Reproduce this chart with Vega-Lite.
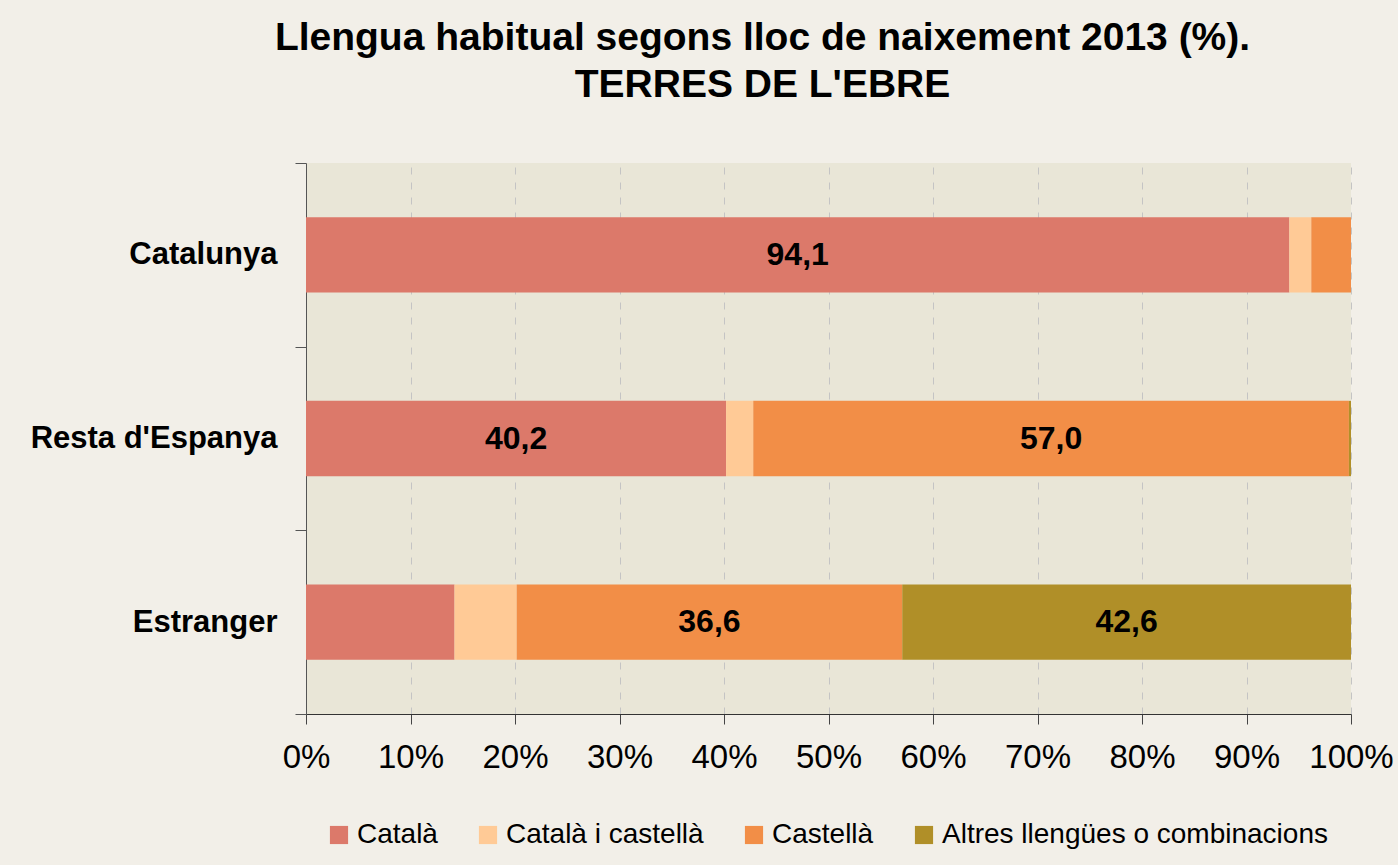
{
  "$schema": "https://vega.github.io/schema/vega-lite/v6.json",
  "width": 1045,
  "height": 551,
  "autosize": {"type": "none"},
  "padding": {"left": 306, "top": 163, "right": 47, "bottom": 151},
  "background": "#F2EFE8",
  "config": {
    "font": "Liberation Sans",
    "locale": {"number": {"decimal": ",", "thousands": ".", "grouping": [3], "currency": ["", " €"]}},
    "view": {"fill": "#E9E6D7", "stroke": null}
  },
  "title": {
    "text": ["Llengua habitual segons lloc de naixement 2013 (%).", "TERRES DE L'EBRE"],
    "fontSize": 39,
    "fontWeight": "bold",
    "color": "#000000",
    "anchor": "middle",
    "dx": -66,
    "offset": 42,
    "lineHeight": 47
  },
  "data": {
    "values": [
      {"origin": "Catalunya", "lang": "Català", "ord": 1, "value": 94.1},
      {"origin": "Catalunya", "lang": "Català i castellà", "ord": 2, "value": 2.1},
      {"origin": "Catalunya", "lang": "Castellà", "ord": 3, "value": 3.8},
      {"origin": "Catalunya", "lang": "Altres llengües o combinacions", "ord": 4, "value": 0.0},
      {"origin": "Resta d'Espanya", "lang": "Català", "ord": 1, "value": 40.2},
      {"origin": "Resta d'Espanya", "lang": "Català i castellà", "ord": 2, "value": 2.6},
      {"origin": "Resta d'Espanya", "lang": "Castellà", "ord": 3, "value": 57.0},
      {"origin": "Resta d'Espanya", "lang": "Altres llengües o combinacions", "ord": 4, "value": 0.2},
      {"origin": "Estranger", "lang": "Català", "ord": 1, "value": 14.1},
      {"origin": "Estranger", "lang": "Català i castellà", "ord": 2, "value": 5.9},
      {"origin": "Estranger", "lang": "Castellà", "ord": 3, "value": 36.6},
      {"origin": "Estranger", "lang": "Altres llengües o combinacions", "ord": 4, "value": 42.6}
    ]
  },
  "transform": [
    {"stack": "value", "groupby": ["origin"], "sort": [{"field": "ord", "order": "ascending"}], "offset": "normalize", "as": ["x0", "x1"]},
    {"calculate": "(datum.x0 + datum.x1) / 2", "as": "xmid"}
  ],
  "encoding": {
    "y": {
      "field": "origin",
      "type": "nominal",
      "sort": ["Catalunya", "Resta d'Espanya", "Estranger"],
      "scale": {"paddingInner": 0, "paddingOuter": 0},
      "axis": {
        "title": null,
        "labelFontSize": 31,
        "labelFontWeight": "bold",
        "labelColor": "#000000",
        "labelLimit": 0,
        "tickBand": "extent",
        "tickSize": 11,
        "labelPadding": 18,
        "domainColor": "#555555",
        "tickColor": "#555555",
        "grid": false
      }
    }
  },
  "layer": [
    {
      "mark": {"type": "bar", "height": {"band": 0.41}},
      "encoding": {
        "x": {
          "field": "x0",
          "type": "quantitative",
          "scale": {"domain": [0, 1], "nice": false},
          "axis": {
            "title": null,
            "format": ".0%",
            "values": [0, 0.1, 0.2, 0.3, 0.4, 0.5, 0.6, 0.7, 0.8, 0.9, 1],
            "labelFontSize": 33,
            "labelColor": "#000000",
            "labelOverlap": false,
            "labelBound": false,
            "labelFlush": false,
            "labelPadding": 17,
            "tickSize": 10,
            "tickColor": "#444444",
            "domainColor": "#333333",
            "grid": true,
            "gridColor": "#C4C4C4",
            "gridDash": [7, 8],
            "gridWidth": 1
          }
        },
        "x2": {"field": "x1"},
        "color": {
          "field": "lang",
          "type": "nominal",
          "scale": {
            "domain": ["Català", "Català i castellà", "Castellà", "Altres llengües o combinacions"],
            "range": ["#DC796A", "#FFCA96", "#F28E47", "#B08F28"]
          },
          "legend": {
            "title": null,
            "orient": "none",
            "legendX": 19,
            "legendY": 658,
            "direction": "horizontal",
            "symbolType": "square",
            "symbolSize": 330,
            "symbolStrokeWidth": 0,
            "symbolOpacity": 1,
            "labelFontSize": 28,
            "labelColor": "#000000",
            "labelLimit": 0,
            "labelOffset": 4,
            "columnPadding": 36
          }
        }
      }
    },
    {
      "transform": [{"filter": "datum.value > 30"}],
      "mark": {"type": "text", "fontSize": 32, "fontWeight": "bold", "color": "#000000", "baseline": "middle"},
      "encoding": {
        "x": {"field": "xmid", "type": "quantitative"},
        "text": {"field": "value", "type": "quantitative", "format": ".1f"}
      }
    }
  ]
}
